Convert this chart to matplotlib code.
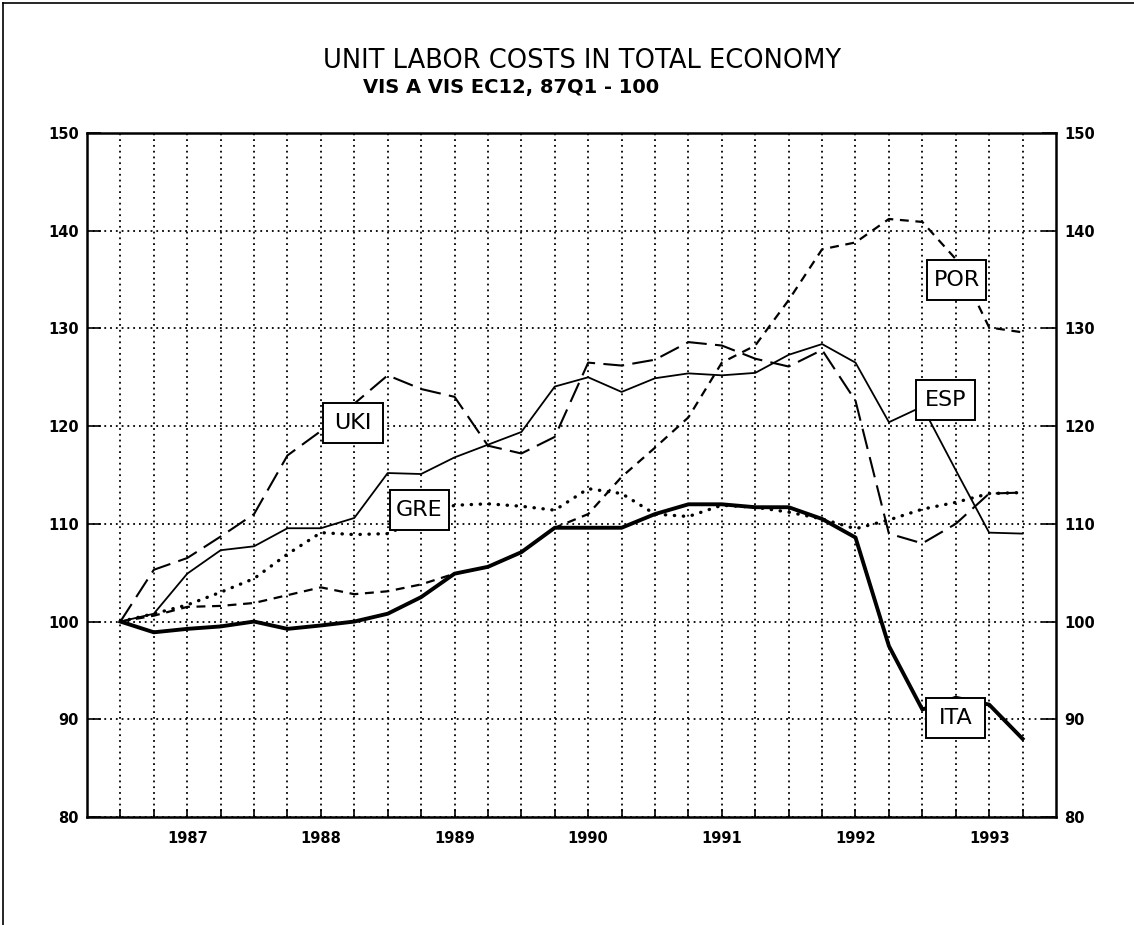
import numpy as np
import matplotlib
matplotlib.use('Agg')
import matplotlib.pyplot as plt
from matplotlib import font_manager
from matplotlib.patches import Rectangle
from matplotlib.lines import Line2D

# quarterly index values, 87Q1 .. 93Q4 (87Q1 = 100)
ita = [100, 98.9, 99.25, 99.5, 100.0, 99.25, 99.6, 100.0, 100.8, 102.5, 104.9, 105.6, 107.1, 109.6,
       109.6, 109.6, 111.0, 112.0, 112.0, 111.7, 111.7, 110.5, 108.6, 97.5, 91.0, 92.2, 91.5, 88.0]
esp = [100, 100.8, 104.9, 107.3, 107.7, 109.55, 109.55, 110.6, 115.2, 115.1, 116.8, 118.1, 119.4, 124.05,
       125.0, 123.5, 124.9, 125.4, 125.2, 125.45, 127.3, 128.4, 126.5, 120.4, 122.0, 115.5, 109.1, 109.0]
uki = [100, 105.3, 106.5, 108.7, 111.0, 117.0, 119.5, 122.3, 125.2, 123.8, 123.0, 118.0, 117.2, 118.9,
       126.5, 126.2, 126.8, 128.6, 128.25, 126.9, 126.1, 127.8, 122.6, 109.0, 108.0, 110.0, 113.1, 113.2]
por = [100, 100.6, 101.5, 101.6, 101.9, 102.7, 103.5, 102.8, 103.1, 103.8, 104.9, 105.6, 107.1, 109.6,
       111.0, 114.8, 117.8, 120.9, 126.5, 128.25, 132.9, 138.1, 138.8, 141.2, 140.9, 137.1, 130.1, 129.6]
gre = [100, 100.8, 101.7, 103.0, 104.4, 106.9, 109.1, 108.9, 109.0, 110.5, 111.9, 112.05, 111.8, 111.4,
       113.6, 113.1, 111.0, 110.75, 111.9, 111.7, 111.2, 110.5, 109.5, 110.4, 111.5, 112.2, 113.1, 113.2]

years = ['1987', '1988', '1989', '1990', '1991', '1992', '1993']
y_ticks = [80, 90, 100, 110, 120, 130, 140, 150]

names = {f.name for f in font_manager.fontManager.ttflist}
narrow = 'Liberation Sans Narrow' if 'Liberation Sans Narrow' in names else 'DejaVu Sans'

fig = plt.figure(figsize=(11.34, 9.25), dpi=100)
ax = fig.add_axes([0.0767, 0.1168, 0.8545, 0.7394])

q = np.arange(len(ita))
ax.plot(q, por, color='black', lw=1.6, ls=(0, (4, 3)), zorder=3)
ax.plot(q, uki, color='black', lw=1.5, ls=(0, (10, 4)), zorder=3)
ax.plot(q, gre, color='black', lw=2.4, ls=(0, (0.1, 2.6)), dash_capstyle='round', zorder=3)
ax.plot(q, esp, color='black', lw=1.3, zorder=4)
ax.plot(q, ita, color='black', lw=2.8, zorder=4)

ax.set_xlim(-1, 28)
ax.set_ylim(80, 150)

# quarter ticks with year labels, thick ticks at year ends
ax.set_xticks(q)
xlabels = [''] * len(q)
for k, yr in enumerate(years):
    xlabels[2 + 4 * k] = yr
ax.set_xticklabels(xlabels, fontweight='bold', fontsize=10.5)
ax.set_xticks(q[3::4], minor=True)
ax.tick_params(axis='x', which='major', direction='in', length=6, width=1.2, pad=10)
ax.tick_params(axis='x', which='minor', direction='in', length=11, width=3)

ax.set_yticks(y_ticks)
ax.set_yticklabels([str(v) for v in y_ticks], fontweight='bold', fontsize=10.5)
ax.tick_params(axis='y', direction='in', length=10, width=1.2, left=True, right=True,
               labelleft=True, labelright=True, pad=6)

ax.grid(True, which='major', color='black', lw=1.3, ls=(0, (1, 2.2)))
for s in ax.spines.values():
    s.set_linewidth(1.8)

# boxed series labels
labels = {'UKI': (6.96, 120.3), 'GRE': (8.94, 111.46), 'POR': (25.03, 135.0),
          'ESP': (24.7, 122.65), 'ITA': (25.0, 90.1)}
bw, bh = 1.77, 4.1
for name, (cx, cy) in labels.items():
    ax.add_patch(Rectangle((cx - bw / 2, cy - bh / 2), bw, bh, facecolor='white',
                           edgecolor='black', lw=1.4, zorder=6))
    ax.text(cx, cy, name, ha='center', va='center', fontsize=16, family=narrow, zorder=7)

fig.text(0.513, 0.926, 'UNIT LABOR COSTS IN TOTAL ECONOMY', ha='center', va='baseline',
         fontsize=18.5, family=narrow)
fig.text(0.4506, 0.8998, 'VIS A VIS EC12, 87Q1 - 100', ha='center', va='baseline',
         fontsize=14, fontweight='bold', family='DejaVu Sans')

# outer frame (top and left edges)
fig.add_artist(Line2D([0.003, 0.003], [0, 0.997], transform=fig.transFigure, color='black', lw=1.2))
fig.add_artist(Line2D([0.003, 1.0], [0.997, 0.997], transform=fig.transFigure, color='black', lw=1.2))

fig.savefig('out.png', dpi=100)
